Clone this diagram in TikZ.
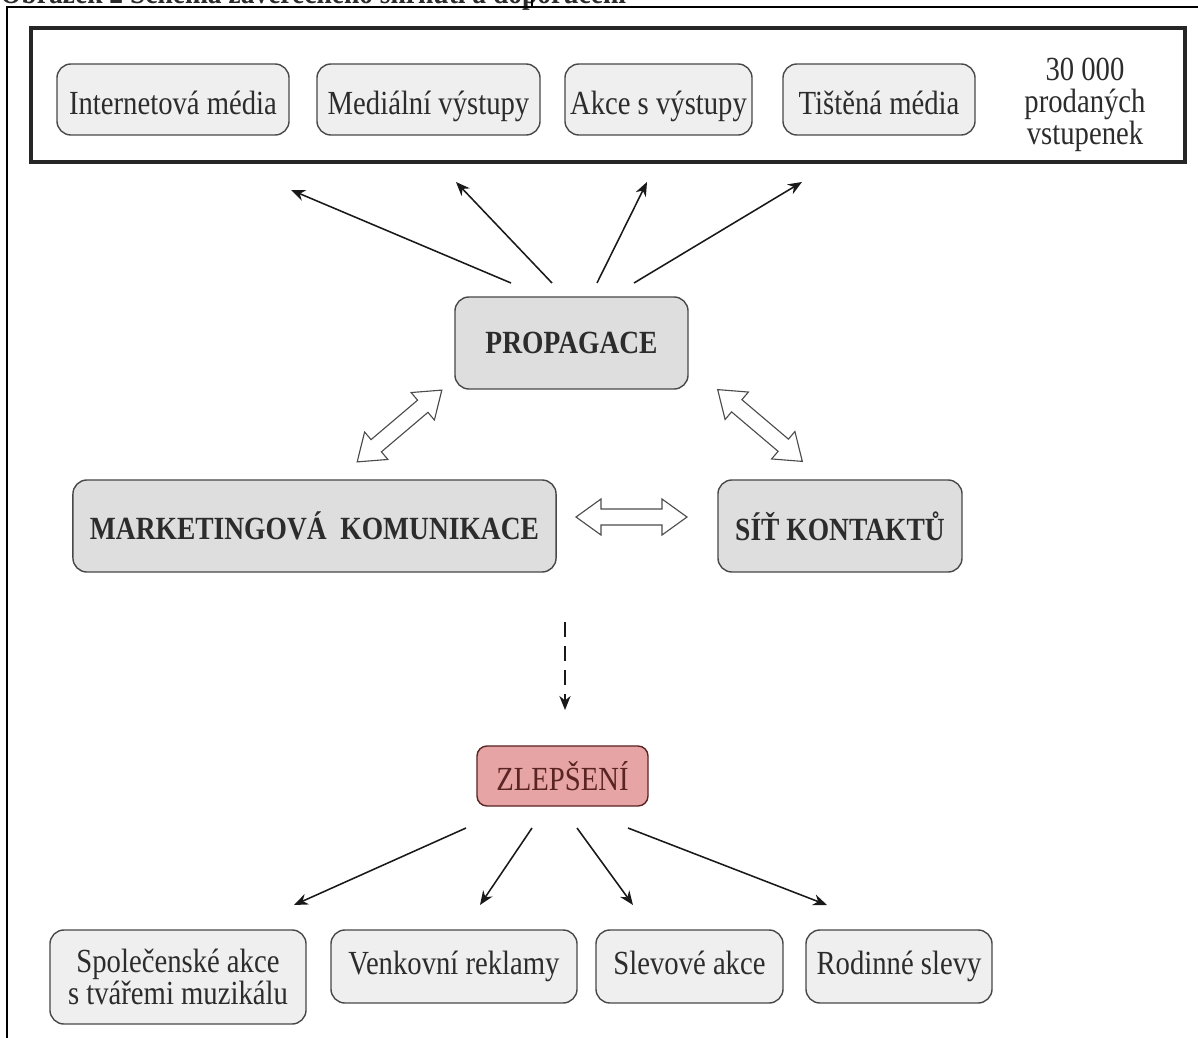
\documentclass[tikz,border=0pt]{standalone}
\usepackage{fontspec}
\setmainfont[FakeStretch=0.85]{Liberation Serif}
\usetikzlibrary{arrows.meta}
\tikzset{>={Stealth[length=10pt,width=8pt]}}
\definecolor{boxline}{HTML}{484848}
\definecolor{lightbox}{HTML}{EFEFEF}
\definecolor{midbox}{HTML}{DEDEDE}
\definecolor{pinkbox}{HTML}{E6A4A4}
\definecolor{pinkline}{HTML}{5A2424}
\definecolor{ink}{HTML}{2C2C2C}
\tikzset{
  media/.style={draw=boxline, line width=1pt, fill=lightbox, rounded corners=0.35cm,
    text=ink, minimum height=1.775cm, inner sep=2pt, text height=21.5pt, text depth=0pt},
  pillar/.style={draw=boxline, line width=1pt, fill=midbox, rounded corners=0.35cm,
    text=ink, minimum height=2.3cm, font=\fontsize{23}{23}\selectfont\bfseries},
  better/.style={draw=pinkline, line width=1pt, fill=pinkbox, rounded corners=0.25cm,
    text=pinkline, minimum height=1.5cm, minimum width=4.275cm},
  pointer/.style={->, line width=1.1pt, draw=black!90},
  % hollow two-way arrow, 111 units long
  twoway/.pic={
    \draw[draw=black!70, fill=white, line width=0.8pt, line join=miter]
      (-55.5,0) -- (-30.5,18) -- (-30.5,8) -- (30.5,8) -- (30.5,18) -- (55.5,0)
      -- (30.5,-18) -- (30.5,-8) -- (-30.5,-8) -- (-30.5,-18) -- cycle;
  }
}

\begin{document}
\begin{tikzpicture}[x=0.025cm, y=-0.025cm, font=\fontsize{24}{23}\selectfont]
\useasboundingbox (0,0) rectangle (1198,1038);

% page frame and cut caption
\node[anchor=base west, inner sep=0pt, text=ink, font=\fontsize{23}{23}\selectfont\bfseries]
  (caption) at (0,4) {Obrázek 2 Schéma závěrečného shrnutí a doporučení};
\draw[line width=1pt] (7,1038) -- (7,7) -- (1198,7);
\draw[line width=1pt] (532,0) -- (532,7);

% media
\draw[draw=black!85, line width=2.2pt] (31,28) rectangle (1185,162);
\node[media, minimum width=5.8cm] (internet) at (173,99.5) {Internetová média};
\node[media, minimum width=5.575cm] (vystupy) at (428.5,99.5) {Mediální výstupy};
\node[media, minimum width=4.675cm] (akce) at (658.5,99.5) {Akce s výstupy};
\node[media, minimum width=4.8cm] (tisk) at (879,99.5) {Tištěná média};
\node[align=center, text=ink] (vstupenky) at (1085,105) {30 000\\prodaných\\vstupenek};

% three pillars
\node[pillar, minimum width=5.825cm] (propagace) at (571.5,343) {PROPAGACE};
\node[pillar, minimum width=12.075cm] (marketing) at (314.5,526) {MARKETINGOVÁ\ \ KOMUNIKACE};
\node[pillar, minimum width=6.1cm] (kontakty) at (840,526) {SÍŤ KONTAKTŮ};

\pic[rotate=40.3] (mkpr) at (399.5,426) {twoway};
\pic[rotate=-40.3] (prsk) at (760,425.5) {twoway};
\pic (mksk) at (631.5,517) {twoway};

\coordinate (p1) at (511,283);  \coordinate (m1) at (291,190);
\coordinate (p2) at (552,283);  \coordinate (m2) at (456,182);
\coordinate (p3) at (597,283);  \coordinate (m3) at (647,182);
\coordinate (p4) at (634,283);  \coordinate (m4) at (802,182);
\foreach \a/\b in {p1/m1, p2/m2, p3/m3, p4/m4}
  \draw[pointer] (\a) -- (\b);

% improvements
\coordinate (d1) at (565,622);
\coordinate (d2) at (565,710);
\draw[pointer, dash pattern=on 11pt off 6pt] (d1) -- (d2);

\node[better] (zlepseni) at (562.5,776) {ZLEPŠENÍ};

\node[media, minimum width=6.4cm, minimum height=2.35cm, align=center, text height=, text depth=]
  (spolecenske) at (178,977) {Společenské akce\\s tvářemi muzikálu};
\node[media, minimum width=6.15cm, minimum height=1.825cm, text depth=10pt] (venkovni) at (454,966.5) {Venkovní reklamy};
\node[media, minimum width=4.675cm, minimum height=1.825cm, text depth=10pt] (slevove) at (689.5,966.5) {Slevové akce};
\node[media, minimum width=4.65cm, minimum height=1.825cm, text depth=10pt] (rodinne) at (899,966.5) {Rodinné slevy};

\coordinate (z1) at (466,828);  \coordinate (s1) at (294,905);
\coordinate (z2) at (532,828);  \coordinate (s2) at (480,905);
\coordinate (z3) at (577,828);  \coordinate (s3) at (633,905);
\coordinate (z4) at (628,828);  \coordinate (s4) at (827,905);
\foreach \a/\b in {z1/s1, z2/s2, z3/s3, z4/s4}
  \draw[pointer] (\a) -- (\b);
\end{tikzpicture}
\end{document}
